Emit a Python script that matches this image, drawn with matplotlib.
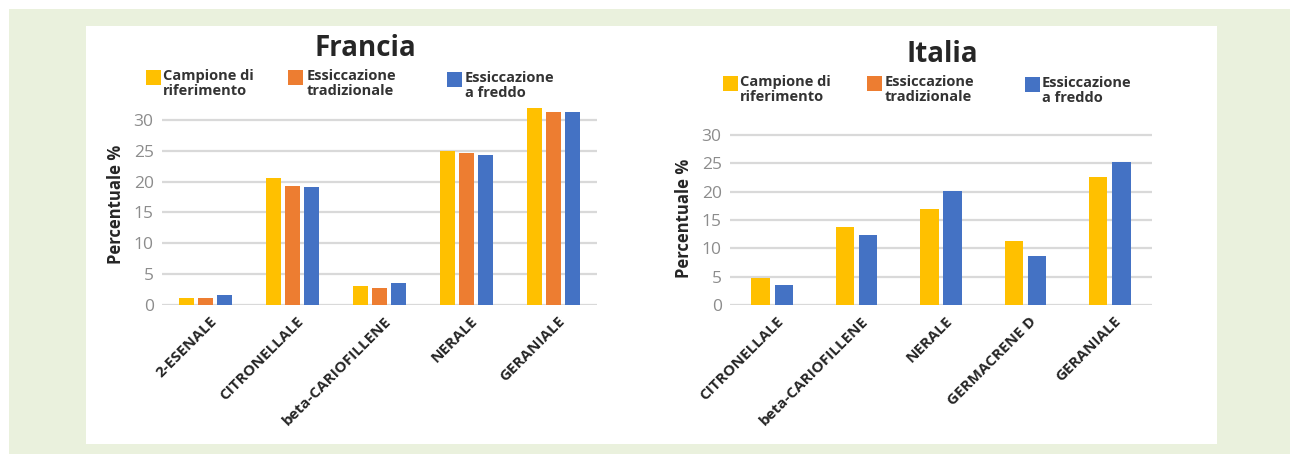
import matplotlib.pyplot as plt
import matplotlib.transforms as mtransforms
from matplotlib.patches import Rectangle
import numpy as np

plt.rcParams['font.family'] = ['Open Sans', 'DejaVu Sans']

series_names = ['Campione di\nriferimento', 'Essiccazione\ntradizionale', 'Essiccazione\na freddo']
series_colors = ['#FFC000', '#ED7D31', '#4472C4']

# Francia: three series per compound
fr_labels = ['2-ESENALE', 'CITRONELLALE', 'beta-CARIOFILLENE', 'NERALE', 'GERANIALE']
fr_rif = [1.2, 20.6, 3.0, 24.9, 31.9]
fr_trad = [1.2, 19.3, 2.8, 24.7, 31.3]
fr_freddo = [1.6, 19.2, 3.6, 24.3, 31.3]

# Italia: no traditional drying values
it_labels = ['CITRONELLALE', 'beta-CARIOFILLENE', 'NERALE', 'GERMACRENE D', 'GERANIALE']
it_rif = [4.7, 13.8, 16.9, 11.3, 22.5]
it_freddo = [3.5, 12.4, 20.1, 8.7, 25.2]

W, H = 1290, 454
fig = plt.figure(figsize=(W / 100, H / 100), dpi=100)
fig.patch.set_facecolor('white')

def px(x0, y0, x1, y1):
    # pixel box (top-left origin) -> figure fraction rect
    return [x0 / W, 1 - y1 / H, (x1 - x0) / W, (y1 - y0) / H]

# background frame
fig.add_artist(Rectangle((9 / W, 0), 1 - 9 / W, 1 - 9 / H, transform=fig.transFigure,
                         facecolor='#EAF1DD', edgecolor='none', zorder=-3))
fig.add_artist(Rectangle((86 / W, 1 - 444 / H), (1217 - 86) / W, (444 - 26) / H,
                         transform=fig.transFigure, facecolor='white', edgecolor='none', zorder=-2))

grid_col = '#D9D9D9'
tick_col = '#8C8C8C'
text_col = '#262626'


def style_axes(ax, labels, ymax, dx_px):
    ax.set_facecolor('none')
    ax.set_xlim(-0.5, len(labels) - 0.5)
    ax.set_ylim(0, ymax)
    ax.set_yticks(range(0, 31, 5))
    ax.yaxis.grid(True, color=grid_col, linewidth=1.6)
    ax.set_axisbelow(True)
    for s in ax.spines.values():
        s.set_visible(False)
    ax.tick_params(axis='y', length=0, pad=6, labelsize=12.5, labelcolor=tick_col)
    ax.tick_params(axis='x', length=0, pad=10)
    ax.set_xticks(np.arange(len(labels)))
    ax.set_xticklabels(labels, rotation=45, ha='right', va='center', rotation_mode='anchor',
                       fontsize=11, fontweight='bold', color=text_col)
    off = mtransforms.ScaledTranslation(dx_px / 100, 0, fig.dpi_scale_trans)
    for lab in ax.get_xticklabels():
        lab.set_transform(lab.get_transform() + off)
    ax.set_ylabel('Percentuale %', fontsize=12, fontweight='bold', color=text_col, labelpad=6)


def legend(entries, ys):
    for (sx, tx), y, name, col in zip(entries, ys, series_names, series_colors):
        fig.add_artist(Rectangle((sx / W, 1 - (y + 15) / H), 15 / W, 15 / H,
                                 transform=fig.transFigure, facecolor=col, edgecolor='none'))
        fig.text(tx / W, 1 - (y - 1) / H, name, ha='left', va='top', fontsize=10.5,
                 fontweight='bold', color='#333333', linespacing=1.05)


# Francia
ax1 = fig.add_axes(px(162, 104.5, 597, 305))
x = np.arange(len(fr_labels))
for vals, col, dx in zip([fr_rif, fr_trad, fr_freddo], series_colors, [-0.222, 0, 0.222]):
    ax1.bar(x + dx, vals, width=0.172, color=col, clip_on=False)
style_axes(ax1, fr_labels, 32.5, 9)
fig.text(365 / W, 1 - 48 / H, 'Francia', ha='center', va='center', fontsize=20,
         fontweight='bold', color=text_col)
legend([(146, 163), (288, 307), (447, 465)], [70, 70, 72])

# Italia
ax2 = fig.add_axes(px(730, 132, 1152, 305))
x = np.arange(len(it_labels))
for vals, col, dx in zip([it_rif, it_freddo], [series_colors[0], series_colors[2]], [-0.138, 0.138]):
    ax2.bar(x + dx, vals, width=0.217, color=col, clip_on=False)
style_axes(ax2, it_labels, 30.5, 9)
fig.text(942 / W, 1 - 54 / H, 'Italia', ha='center', va='center', fontsize=20,
         fontweight='bold', color=text_col)
legend([(723, 740), (867, 885), (1025, 1042)], [76, 76, 77])

fig.savefig('out.png', dpi=100)
